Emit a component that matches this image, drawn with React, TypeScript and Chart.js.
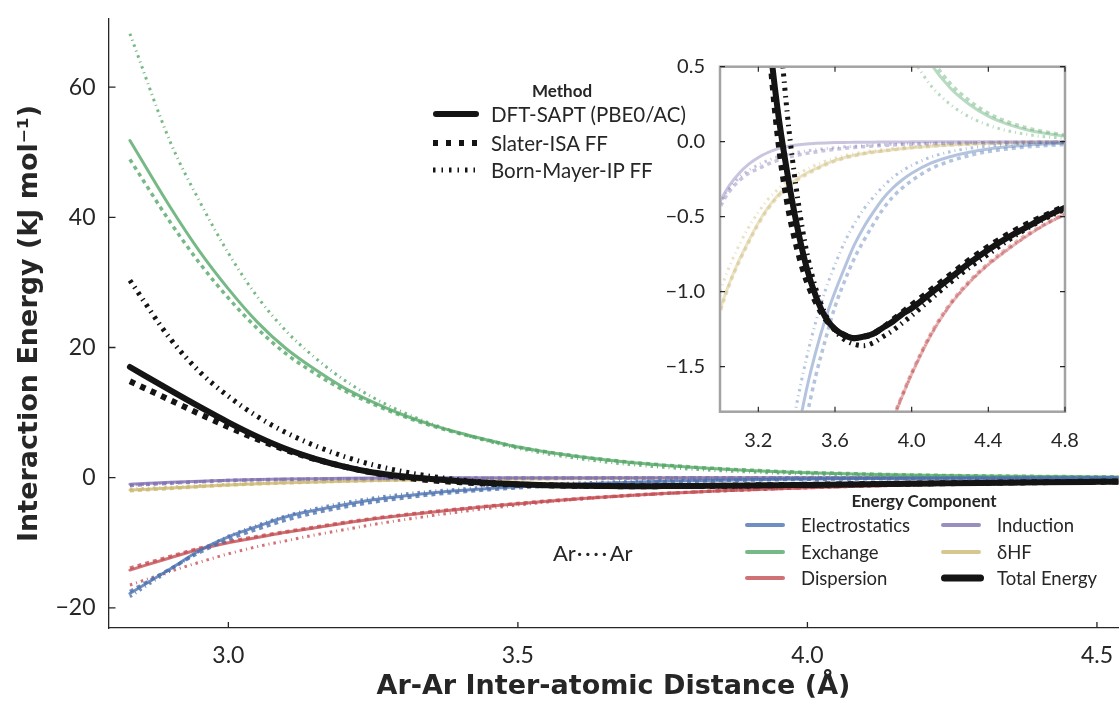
import React, { useEffect, useRef } from "react";
import { Chart, registerables } from "chart.js";

Chart.register(...registerables);

// Ar–Ar separation (Å)
const distances = [
  2.83, 2.9, 2.95, 3.0, 3.05, 3.1, 3.15, 3.2, 3.25, 3.3, 3.35, 3.4, 3.45, 3.5, 3.55, 3.6,
  3.65, 3.7, 3.75, 3.8, 3.85, 3.9, 3.95, 4.0, 4.1, 4.2, 4.3, 4.4, 4.5, 4.6, 4.7, 4.8,
];

// Electrostatics (kJ/mol)
const elstSapt = [-17.8, -14.0, -11.2, -9.1, -7.5, -6.0, -5.0, -4.15, -3.4, -2.85, -2.35, -1.98, -1.66, -1.4, -1.18, -1.0, -0.84, -0.69, -0.57, -0.47, -0.38, -0.31, -0.255, -0.21, -0.143, -0.1, -0.07, -0.048, -0.033, -0.023, -0.016, -0.011];
const elstIsa = [-17.5, -14.0, -11.5, -9.5, -7.9, -6.5, -5.4, -4.5, -3.75, -3.15, -2.62, -2.2, -1.85, -1.56, -1.32, -1.1, -0.93, -0.78, -0.66, -0.55, -0.45, -0.37, -0.31, -0.26, -0.18, -0.13, -0.092, -0.066, -0.048, -0.035, -0.026, -0.019];
const elstBm = [-18.3, -14.2, -11.3, -9.0, -7.3, -5.85, -4.75, -3.85, -3.12, -2.55, -2.1, -1.75, -1.45, -1.2, -0.99, -0.82, -0.67, -0.55, -0.45, -0.37, -0.3, -0.24, -0.195, -0.158, -0.103, -0.067, -0.044, -0.029, -0.019, -0.012, -0.008, -0.005];

// Exchange
const exchSapt = [51.8, 41.5, 34.8, 29.0, 23.9, 19.8, 16.6, 13.8, 11.6, 9.7, 8.15, 6.85, 5.75, 4.7, 3.95, 3.3, 2.75, 2.29, 1.91, 1.59, 1.32, 1.1, 0.91, 0.75, 0.52, 0.36, 0.25, 0.17, 0.117, 0.08, 0.055, 0.038];
const exchIsa = [48.9, 39.2, 33.0, 27.6, 22.9, 19.0, 16.0, 13.4, 11.3, 9.5, 8.0, 6.75, 5.7, 4.7, 3.95, 3.32, 2.78, 2.33, 1.96, 1.64, 1.37, 1.15, 0.96, 0.8, 0.56, 0.39, 0.275, 0.19, 0.133, 0.093, 0.065, 0.045];
const exchBm = [68.2, 51.5, 42.5, 34.5, 27.8, 22.5, 18.4, 15.0, 12.3, 10.1, 8.3, 6.8, 5.55, 4.5, 3.66, 2.98, 2.42, 1.97, 1.6, 1.3, 1.06, 0.86, 0.7, 0.57, 0.375, 0.25, 0.166, 0.11, 0.073, 0.049, 0.032, 0.022];

// Dispersion
const dispSapt = [-14.2, -12.3, -11.0, -10.0, -9.2, -8.4, -7.7, -7.0, -6.35, -5.8, -5.3, -4.85, -4.4, -4.0, -3.62, -3.28, -2.98, -2.7, -2.45, -2.23, -2.03, -1.86, -1.7, -1.55, -1.29, -1.09, -0.94, -0.82, -0.72, -0.63, -0.55, -0.485];
const dispIsa = [-13.9, -12.1, -10.85, -9.85, -9.05, -8.3, -7.6, -6.9, -6.28, -5.74, -5.25, -4.8, -4.37, -3.97, -3.6, -3.26, -2.96, -2.69, -2.44, -2.22, -2.02, -1.85, -1.69, -1.54, -1.28, -1.08, -0.93, -0.81, -0.71, -0.62, -0.545, -0.48];
const dispBm = [-16.5, -14.4, -13.0, -11.7, -10.6, -9.7, -8.8, -8.0, -7.2, -6.5, -5.85, -5.25, -4.7, -4.2, -3.75, -3.36, -3.02, -2.72, -2.46, -2.23, -2.03, -1.86, -1.7, -1.55, -1.29, -1.09, -0.94, -0.82, -0.72, -0.63, -0.55, -0.485];

// Induction
const indSapt = [-1.0, -0.72, -0.55, -0.4, -0.29, -0.21, -0.15, -0.105, -0.072, -0.048, -0.032, -0.022, -0.015, -0.011, -0.008, -0.006, -0.005, -0.004, -0.003, -0.003, -0.002, -0.002, -0.002, -0.001, -0.001, -0.001, -0.001, -0.001, 0, 0, 0, 0];
const indIsa = [-1.2, -0.85, -0.63, -0.44, -0.33, -0.26, -0.21, -0.18, -0.15, -0.125, -0.105, -0.09, -0.078, -0.068, -0.059, -0.051, -0.044, -0.038, -0.033, -0.029, -0.025, -0.022, -0.019, -0.017, -0.013, -0.01, -0.008, -0.006, -0.005, -0.004, -0.003, -0.003];
const indBm = [-1.15, -0.8, -0.6, -0.42, -0.31, -0.24, -0.19, -0.155, -0.125, -0.1, -0.085, -0.072, -0.062, -0.053, -0.046, -0.04, -0.034, -0.03, -0.026, -0.022, -0.019, -0.017, -0.015, -0.013, -0.01, -0.008, -0.006, -0.005, -0.004, -0.003, -0.003, -0.002];

// δHF
const dhfSapt = [-1.9, -1.6, -1.35, -1.12, -0.94, -0.79, -0.66, -0.54, -0.44, -0.36, -0.3, -0.25, -0.21, -0.18, -0.15, -0.125, -0.105, -0.09, -0.078, -0.068, -0.062, -0.054, -0.047, -0.04, -0.03, -0.022, -0.015, -0.011, -0.008, -0.006, -0.004, -0.003];
const dhfIsa = [-2.0, -1.65, -1.38, -1.14, -0.95, -0.8, -0.67, -0.55, -0.45, -0.37, -0.31, -0.26, -0.22, -0.185, -0.155, -0.13, -0.11, -0.094, -0.081, -0.07, -0.062, -0.055, -0.048, -0.041, -0.031, -0.023, -0.017, -0.012, -0.009, -0.006, -0.005, -0.003];
const dhfBm = [-1.75, -1.45, -1.22, -1.0, -0.83, -0.69, -0.57, -0.47, -0.385, -0.32, -0.265, -0.22, -0.185, -0.155, -0.13, -0.11, -0.093, -0.08, -0.069, -0.06, -0.053, -0.046, -0.04, -0.034, -0.025, -0.018, -0.013, -0.01, -0.007, -0.005, -0.004, -0.003];

// Total interaction energy
const totalSapt = [17.0, 13.4, 10.9, 8.5, 6.3, 4.4, 2.9, 1.7, 0.8, 0.22, -0.2, -0.55, -0.83, -1.03, -1.17, -1.25, -1.29, -1.31, -1.3, -1.28, -1.24, -1.2, -1.15, -1.11, -1.01, -0.91, -0.81, -0.72, -0.64, -0.57, -0.5, -0.44];
const totalIsa = [14.8, 11.9, 9.8, 7.8, 5.9, 4.25, 2.85, 1.7, 0.75, 0.05, -0.4, -0.7, -0.92, -1.07, -1.18, -1.25, -1.29, -1.31, -1.3, -1.28, -1.24, -1.19, -1.14, -1.09, -0.99, -0.89, -0.79, -0.7, -0.62, -0.55, -0.49, -0.43];
const totalBm = [30.3, 21.3, 16.3, 12.5, 9.4, 6.9, 4.9, 3.25, 1.95, 0.95, 0.2, -0.33, -0.72, -0.98, -1.15, -1.26, -1.32, -1.35, -1.36, -1.34, -1.3, -1.26, -1.21, -1.16, -1.05, -0.94, -0.84, -0.75, -0.66, -0.58, -0.51, -0.45];

const mainXTicks = [3.0, 3.5, 4.0, 4.5];
const mainYTicks = [-20, 0, 20, 40, 60];
const insetXTicks = [3.2, 3.6, 4.0, 4.4, 4.8];
const insetYTicks = [-1.5, -1.0, -0.5, 0.0, 0.5];

const componentNames = ["Electrostatics", "Exchange", "Dispersion", "Induction", "\u03B4HF", "Total Energy"];
const methodNames = ["DFT-SAPT (PBE0/AC)", "Slater-ISA FF", "Born-Mayer-IP FF"];

const FONT = "Lato, 'Open Sans', 'DejaVu Sans', sans-serif";
const TITLE_FONT = "'DejaVu Sans', Lato, sans-serif";
const INK = "#262626";
const BLACK = "#141414";

// rgb triples, one per energy component (the total is drawn in black)
const componentRgb = [
  [76, 114, 176],
  [85, 168, 104],
  [196, 78, 82],
  [129, 114, 178],
  [204, 185, 116],
];

const componentSeries = [
  [elstSapt, elstIsa, elstBm],
  [exchSapt, exchIsa, exchBm],
  [dispSapt, dispIsa, dispBm],
  [indSapt, indIsa, indBm],
  [dhfSapt, dhfIsa, dhfBm],
];
const totalSeries = [totalSapt, totalIsa, totalBm];

// line styles: reference method solid, Slater-ISA dashed, Born-Mayer dash-dot
const methodStyles = [
  { dash: [] as number[], blackDash: [] as number[], legendDash: [] as number[], width: 3, blackWidth: 6, cap: "round" },
  { dash: [4, 4], blackDash: [5.5, 6], legendDash: [5, 8], width: 3.5, blackWidth: 6, cap: "butt" },
  { dash: [2.5, 4, 1, 4], blackDash: [3, 5, 1.5, 5], legendDash: [2.5, 6, 1.5, 6], width: 3, blackWidth: 5, cap: "butt" },
];

const rgba = (c: number[], a: number) => `rgba(${c[0]},${c[1]},${c[2]},${a})`;
const toPoints = (vals: number[]) => distances.map((x, i) => ({ x, y: vals[i] }));

function buildDatasets(alpha: number, clip?: number) {
  const sets: any[] = [];
  // total energy first so it is painted on top
  totalSeries.forEach((vals, m) => {
    const st = methodStyles[m];
    sets.push({
      label: `${componentNames[5]} ${methodNames[m]}`,
      data: toPoints(vals),
      borderColor: BLACK,
      borderWidth: st.blackWidth,
      borderDash: st.blackDash,
      borderCapStyle: st.cap,
      pointRadius: 0,
      fill: false,
      cubicInterpolationMode: "monotone",
      ...(clip !== undefined ? { clip } : {}),
    });
  });
  componentSeries.forEach((group, c) => {
    group.forEach((vals, m) => {
      const st = methodStyles[m];
      sets.push({
        label: `${componentNames[c]} ${methodNames[m]}`,
        data: toPoints(vals),
        borderColor: rgba(componentRgb[c], alpha),
        borderWidth: st.width,
        borderDash: st.dash,
        borderCapStyle: st.cap,
        pointRadius: 0,
        fill: false,
        cubicInterpolationMode: "monotone",
        ...(clip !== undefined ? { clip } : {}),
      });
    });
  });
  return sets;
}

const fmt = (v: number, d: number) => v.toFixed(d).replace("-", "\u2212");

// inward tick marks on the main axes
const mainTickPlugin = {
  id: "mainInwardTicks",
  afterDatasetsDraw(chart: any) {
    const { ctx, chartArea: a, scales } = chart;
    ctx.save();
    ctx.strokeStyle = INK;
    ctx.lineWidth = 1.3;
    ctx.beginPath();
    scales.x.ticks.forEach((t: any) => {
      const px = scales.x.getPixelForValue(t.value);
      ctx.moveTo(px, a.bottom);
      ctx.lineTo(px, a.bottom - 6);
    });
    scales.y.ticks.forEach((t: any) => {
      const py = scales.y.getPixelForValue(t.value);
      ctx.moveTo(a.left, py);
      ctx.lineTo(a.left + 7, py);
    });
    ctx.stroke();
    ctx.restore();
  },
};

// white face, grey frame and inward ticks on all sides of the zoomed panel
const insetFramePlugin = {
  id: "insetFrame",
  beforeDatasetsDraw(chart: any) {
    const { ctx, chartArea: a } = chart;
    ctx.save();
    ctx.fillStyle = "#ffffff";
    ctx.fillRect(a.left, a.top, a.right - a.left, a.bottom - a.top);
    ctx.restore();
  },
  afterDatasetsDraw(chart: any) {
    const { ctx, chartArea: a, scales } = chart;
    ctx.save();
    ctx.strokeStyle = "#a3a3a3";
    ctx.lineWidth = 2.5;
    ctx.strokeRect(a.left, a.top, a.right - a.left, a.bottom - a.top);
    ctx.strokeStyle = INK;
    ctx.lineWidth = 1.2;
    ctx.beginPath();
    scales.x.ticks.forEach((t: any) => {
      const px = scales.x.getPixelForValue(t.value);
      ctx.moveTo(px, a.bottom);
      ctx.lineTo(px, a.bottom - 5);
      ctx.moveTo(px, a.top);
      ctx.lineTo(px, a.top + 5);
    });
    scales.y.ticks.forEach((t: any) => {
      const py = scales.y.getPixelForValue(t.value);
      ctx.moveTo(a.left, py);
      ctx.lineTo(a.left + 5, py);
      ctx.moveTo(a.right, py);
      ctx.lineTo(a.right - 5, py);
    });
    ctx.stroke();
    ctx.restore();
  },
};

function Swatch(props: { left: number; top: number; w: number; color: string; width: number; dash: number[]; cap: string }) {
  const { left, top, w, color, width, dash, cap } = props;
  const inset = cap === "round" ? width / 2 : 0;
  return (
    <svg width={w} height={14} style={{ position: "absolute", left, top: top - 7, overflow: "visible" }}>
      <line
        x1={inset}
        y1={7}
        x2={w - inset}
        y2={7}
        stroke={color}
        strokeWidth={width}
        strokeDasharray={dash.length ? dash.join(" ") : undefined}
        strokeLinecap={cap as any}
      />
    </svg>
  );
}

const textStyle = (left: number, top: number, size: number, bold = false): React.CSSProperties => ({
  position: "absolute",
  left,
  top,
  transform: "translateY(-50%)",
  fontFamily: FONT,
  fontSize: size,
  fontWeight: bold ? 700 : 400,
  color: INK,
  whiteSpace: "nowrap",
  lineHeight: 1,
});

export default function App() {
  const mainRef = useRef<HTMLCanvasElement>(null);
  const insetRef = useRef<HTMLCanvasElement>(null);

  useEffect(() => {
    const main = new Chart(mainRef.current as HTMLCanvasElement, {
      type: "line",
      data: { datasets: buildDatasets(0.8) },
      options: {
        animation: false,
        responsive: false,
        events: [],
        layout: { padding: { top: 15, right: 0, left: 0, bottom: 0 } },
        plugins: { legend: { display: false }, tooltip: { enabled: false } },
        scales: {
          x: {
            type: "linear",
            min: 2.793,
            max: 4.537,
            afterBuildTicks: (s: any) => {
              s.ticks = mainXTicks.map((v) => ({ value: v }));
            },
            afterFit: (s: any) => {
              s.height = 76;
            },
            grid: { display: false },
            border: { display: true, color: INK, width: 1.3 },
            ticks: {
              color: INK,
              padding: 6,
              font: { family: FONT, size: 23 },
              callback: (v: any) => fmt(Number(v), 1),
            },
            title: {
              display: true,
              text: "Ar-Ar Inter-atomic Distance (\u00C5)",
              color: INK,
              font: { family: TITLE_FONT, size: 27, weight: "bold", lineHeight: 1.2 },
              padding: { top: 0, bottom: 1 },
            },
          },
          y: {
            type: "linear",
            min: -23.1,
            max: 70.5,
            afterBuildTicks: (s: any) => {
              s.ticks = mainYTicks.map((v) => ({ value: v }));
            },
            afterFit: (s: any) => {
              s.width = 108.5;
            },
            grid: { display: false },
            border: { display: true, color: INK, width: 1.3 },
            ticks: {
              color: INK,
              padding: 5,
              font: { family: FONT, size: 23 },
              callback: (v: any) => fmt(Number(v), 0),
            },
            title: {
              display: true,
              text: "Interaction Energy (kJ mol\u207B\u00B9)",
              color: INK,
              font: { family: TITLE_FONT, size: 27, weight: "bold", lineHeight: 1.2 },
              padding: { top: 14, bottom: 0 },
            },
          },
        },
      },
      plugins: [mainTickPlugin],
    } as any);

    const inset = new Chart(insetRef.current as HTMLCanvasElement, {
      type: "line",
      data: { datasets: buildDatasets(0.42, 0) },
      options: {
        animation: false,
        responsive: false,
        events: [],
        layout: { padding: { top: 26.7, right: 54, left: 0, bottom: 0 } },
        plugins: { legend: { display: false }, tooltip: { enabled: false } },
        scales: {
          x: {
            type: "linear",
            min: 3.0,
            max: 4.8,
            afterBuildTicks: (s: any) => {
              s.ticks = insetXTicks.map((v) => ({ value: v }));
            },
            afterFit: (s: any) => {
              s.height = 58.3;
            },
            grid: { display: false },
            border: { display: false },
            ticks: {
              color: INK,
              padding: 9,
              maxRotation: 0,
              autoSkip: false,
              font: { family: FONT, size: 20 },
              callback: (v: any) => fmt(Number(v), 1),
            },
          },
          y: {
            type: "linear",
            min: -1.8,
            max: 0.5,
            afterBuildTicks: (s: any) => {
              s.ticks = insetYTicks.map((v) => ({ value: v }));
            },
            afterFit: (s: any) => {
              s.width = 80;
            },
            grid: { display: false },
            border: { display: false },
            ticks: {
              color: INK,
              padding: 7,
              autoSkip: false,
              font: { family: FONT, size: 20 },
              callback: (v: any) => fmt(Number(v), 1),
            },
          },
        },
      },
      plugins: [insetFramePlugin],
    } as any);

    return () => {
      main.destroy();
      inset.destroy();
    };
  }, []);

  const methodRows = [114, 143, 170];
  const compRows = [525, 552, 578];
  const compCols = [
    { line: 745, text: 801 },
    { line: 941, text: 997 },
  ];
  const compOrder = [
    [0, 0],
    [1, 0],
    [2, 0],
    [3, 1],
    [4, 1],
    [5, 1],
  ];

  return (
    <div style={{ position: "absolute", left: 0, top: 0, width: 1119, height: 704, background: "#ffffff", overflow: "hidden" }}>
      <canvas ref={mainRef} width={1119} height={704} style={{ position: "absolute", left: 0, top: 0, width: 1119, height: 704 }} />
      <canvas ref={insetRef} width={479} height={430} style={{ position: "absolute", left: 640, top: 40, width: 479, height: 430 }} />

      {/* method legend */}
      <div style={{ ...textStyle(562, 90, 17, true), transform: "translate(-50%, -50%)" }}>Method</div>
      {methodNames.map((name, m) => (
        <React.Fragment key={name}>
          <Swatch
            left={433}
            top={methodRows[m]}
            w={46}
            color={BLACK}
            width={methodStyles[m].blackWidth}
            dash={methodStyles[m].legendDash}
            cap={methodStyles[m].cap}
          />
          <div style={textStyle(491, methodRows[m], 20.5)}>{name}</div>
        </React.Fragment>
      ))}

      {/* component legend */}
      <div style={{ ...textStyle(924, 500, 17, true), transform: "translate(-50%, -50%)" }}>Energy Component</div>
      {compOrder.map(([c, col], i) => {
        const row = compRows[i % 3];
        const isTotal = c === 5;
        return (
          <React.Fragment key={componentNames[c]}>
            <Swatch
              left={compCols[col].line}
              top={row}
              w={isTotal ? 43 : 40}
              color={isTotal ? BLACK : rgba(componentRgb[c], 0.8)}
              width={isTotal ? 7 : 4}
              dash={[]}
              cap="round"
            />
            <div style={textStyle(compCols[col].text, row, 18.5)}>{componentNames[c]}</div>
          </React.Fragment>
        );
      })}

      <div style={textStyle(553, 553, 22)}>
        Ar<span style={{ letterSpacing: 2.5, marginLeft: 1 }}>{"\u00B7\u00B7\u00B7\u00B7"}</span>Ar
      </div>
    </div>
  );
}
